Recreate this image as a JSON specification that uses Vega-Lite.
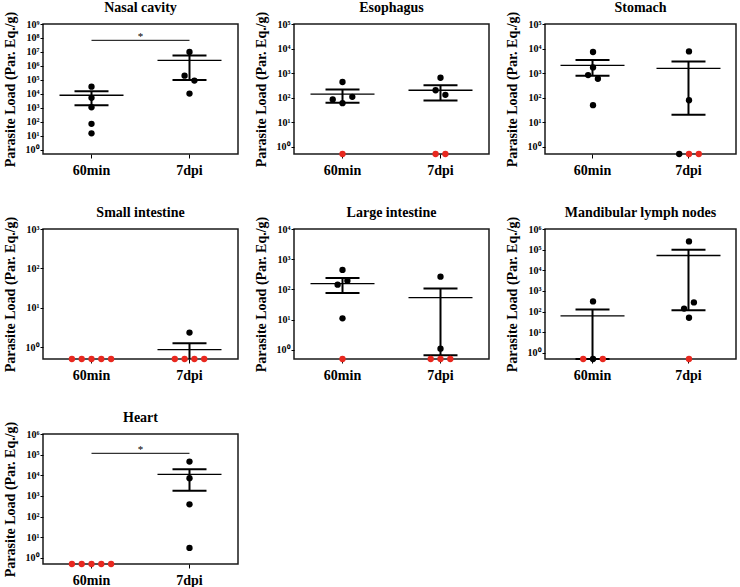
{
"$schema": "https://vega.github.io/schema/vega-lite/v6.json",
"padding": {"left": 2, "top": 0, "right": 2, "bottom": 2},
"columns": 3,
"spacing": {"row": 27, "column": 14},
"datasets": {
"pts": [
{"panel":"Nasal cavity","group":"60min","slot":0,"load":33000,"detected":"yes"},
{"panel":"Nasal cavity","group":"60min","slot":0,"load":5200,"detected":"yes"},
{"panel":"Nasal cavity","group":"60min","slot":0,"load":1100,"detected":"yes"},
{"panel":"Nasal cavity","group":"60min","slot":0,"load":72,"detected":"yes"},
{"panel":"Nasal cavity","group":"60min","slot":0,"load":15,"detected":"yes"},
{"panel":"Nasal cavity","group":"7dpi","slot":0,"load":10000000,"detected":"yes"},
{"panel":"Nasal cavity","group":"7dpi","slot":-0.5,"load":200000,"detected":"yes"},
{"panel":"Nasal cavity","group":"7dpi","slot":0.5,"load":90000,"detected":"yes"},
{"panel":"Nasal cavity","group":"7dpi","slot":0,"load":10500,"detected":"yes"},
{"panel":"Esophagus","group":"60min","slot":0,"load":430,"detected":"yes"},
{"panel":"Esophagus","group":"60min","slot":-1,"load":84,"detected":"yes"},
{"panel":"Esophagus","group":"60min","slot":1,"load":107,"detected":"yes"},
{"panel":"Esophagus","group":"60min","slot":0,"load":59,"detected":"yes"},
{"panel":"Esophagus","group":"60min","slot":0,"load":0.5,"detected":"no"},
{"panel":"Esophagus","group":"7dpi","slot":0,"load":645,"detected":"yes"},
{"panel":"Esophagus","group":"7dpi","slot":-0.5,"load":199,"detected":"yes"},
{"panel":"Esophagus","group":"7dpi","slot":0.5,"load":129,"detected":"yes"},
{"panel":"Esophagus","group":"7dpi","slot":-0.5,"load":0.5,"detected":"no"},
{"panel":"Esophagus","group":"7dpi","slot":0.5,"load":0.5,"detected":"no"},
{"panel":"Stomach","group":"60min","slot":0,"load":7200,"detected":"yes"},
{"panel":"Stomach","group":"60min","slot":0,"load":1700,"detected":"yes"},
{"panel":"Stomach","group":"60min","slot":-0.5,"load":826,"detected":"yes"},
{"panel":"Stomach","group":"60min","slot":0.5,"load":585,"detected":"yes"},
{"panel":"Stomach","group":"60min","slot":0,"load":49,"detected":"yes"},
{"panel":"Stomach","group":"7dpi","slot":0,"load":7600,"detected":"yes"},
{"panel":"Stomach","group":"7dpi","slot":0,"load":78,"detected":"yes"},
{"panel":"Stomach","group":"7dpi","slot":-1,"load":0.5,"detected":"yes"},
{"panel":"Stomach","group":"7dpi","slot":0,"load":0.5,"detected":"no"},
{"panel":"Stomach","group":"7dpi","slot":1,"load":0.5,"detected":"no"},
{"panel":"Small intestine","group":"60min","slot":-2,"load":0.5,"detected":"no"},
{"panel":"Small intestine","group":"60min","slot":-1,"load":0.5,"detected":"no"},
{"panel":"Small intestine","group":"60min","slot":0,"load":0.5,"detected":"no"},
{"panel":"Small intestine","group":"60min","slot":1,"load":0.5,"detected":"no"},
{"panel":"Small intestine","group":"60min","slot":2,"load":0.5,"detected":"no"},
{"panel":"Small intestine","group":"7dpi","slot":0,"load":2.34,"detected":"yes"},
{"panel":"Small intestine","group":"7dpi","slot":-1.5,"load":0.5,"detected":"no"},
{"panel":"Small intestine","group":"7dpi","slot":-0.5,"load":0.5,"detected":"no"},
{"panel":"Small intestine","group":"7dpi","slot":0.5,"load":0.5,"detected":"no"},
{"panel":"Small intestine","group":"7dpi","slot":1.5,"load":0.5,"detected":"no"},
{"panel":"Large intestine","group":"60min","slot":0,"load":442,"detected":"yes"},
{"panel":"Large intestine","group":"60min","slot":-0.5,"load":144,"detected":"yes"},
{"panel":"Large intestine","group":"60min","slot":0.5,"load":195,"detected":"yes"},
{"panel":"Large intestine","group":"60min","slot":0,"load":11.1,"detected":"yes"},
{"panel":"Large intestine","group":"60min","slot":0,"load":0.5,"detected":"no"},
{"panel":"Large intestine","group":"7dpi","slot":0,"load":265,"detected":"yes"},
{"panel":"Large intestine","group":"7dpi","slot":0,"load":1.1,"detected":"yes"},
{"panel":"Large intestine","group":"7dpi","slot":-1,"load":0.5,"detected":"no"},
{"panel":"Large intestine","group":"7dpi","slot":0,"load":0.5,"detected":"no"},
{"panel":"Large intestine","group":"7dpi","slot":1,"load":0.5,"detected":"no"},
{"panel":"Mandibular lymph nodes","group":"60min","slot":0,"load":310,"detected":"yes"},
{"panel":"Mandibular lymph nodes","group":"60min","slot":-1,"load":0.5,"detected":"no"},
{"panel":"Mandibular lymph nodes","group":"60min","slot":1,"load":0.5,"detected":"no"},
{"panel":"Mandibular lymph nodes","group":"60min","slot":0,"load":0.5,"detected":"yes"},
{"panel":"Mandibular lymph nodes","group":"7dpi","slot":0,"load":250000,"detected":"yes"},
{"panel":"Mandibular lymph nodes","group":"7dpi","slot":0.5,"load":277,"detected":"yes"},
{"panel":"Mandibular lymph nodes","group":"7dpi","slot":-0.5,"load":139,"detected":"yes"},
{"panel":"Mandibular lymph nodes","group":"7dpi","slot":0,"load":50,"detected":"yes"},
{"panel":"Mandibular lymph nodes","group":"7dpi","slot":0,"load":0.5,"detected":"no"},
{"panel":"Heart","group":"60min","slot":-2,"load":0.5,"detected":"no"},
{"panel":"Heart","group":"60min","slot":-1,"load":0.5,"detected":"no"},
{"panel":"Heart","group":"60min","slot":0,"load":0.5,"detected":"no"},
{"panel":"Heart","group":"60min","slot":1,"load":0.5,"detected":"no"},
{"panel":"Heart","group":"60min","slot":2,"load":0.5,"detected":"no"},
{"panel":"Heart","group":"7dpi","slot":0,"load":46000,"detected":"yes"},
{"panel":"Heart","group":"7dpi","slot":0,"load":7200,"detected":"yes"},
{"panel":"Heart","group":"7dpi","slot":0,"load":390,"detected":"yes"},
{"panel":"Heart","group":"7dpi","slot":0,"load":3.0,"detected":"yes"}
],
"summary": [
{"panel":"Nasal cavity","group":"60min","load":8000,"lower":1550,"upper":15500},
{"panel":"Nasal cavity","group":"7dpi","load":2500000,"lower":100000,"upper":5500000},
{"panel":"Esophagus","group":"60min","load":138,"lower":61,"upper":212},
{"panel":"Esophagus","group":"7dpi","load":199,"lower":76,"upper":316},
{"panel":"Stomach","group":"60min","load":2040,"lower":775,"upper":3380},
{"panel":"Stomach","group":"7dpi","load":1550,"lower":20,"upper":2970},
{"panel":"Small intestine","group":"7dpi","load":0.87,"lower":0.5,"upper":1.26},
{"panel":"Large intestine","group":"60min","load":156,"lower":76,"upper":240},
{"panel":"Large intestine","group":"7dpi","load":54,"lower":0.67,"upper":107},
{"panel":"Mandibular lymph nodes","group":"60min","load":62,"lower":0.5,"upper":125},
{"panel":"Mandibular lymph nodes","group":"7dpi","load":52000,"lower":116,"upper":100000},
{"panel":"Heart","group":"7dpi","load":11000,"lower":1780,"upper":19500}
],
"sig": [
{"panel":"Nasal cavity","group":"60min","load":68000000},
{"panel":"Nasal cavity","group":"7dpi","load":68000000},
{"panel":"Heart","group":"60min","load":116000},
{"panel":"Heart","group":"7dpi","load":116000}
],
"star": [
{"panel":"Nasal cavity","group":" ","load":68000000,"label":"*"},
{"panel":"Heart","group":" ","load":116000,"label":"*"}
]
},
"concat": [
{
"title": "Nasal cavity", "width": 195, "height": 130,
"encoding": {
"x": {"field":"group","type":"nominal","title":null,"scale":{"domain":["60min"," ","7dpi"],"paddingInner":0,"paddingOuter":0.49},"axis":{"values":["60min","7dpi"],"labelAngle":0}},
"y": {"field":"load","type":"quantitative","title":"Parasite Load (Par. Eq./g)","scale":{"type":"log","domain":[0.5,1000000000],"nice":false},"axis":{"values":[1,10,100,1000,10000,100000,1000000,10000000,100000000,1000000000],"labelExpr":"'10' + substring('⁰¹²³⁴⁵⁶⁷⁸⁹', round(log(datum.value)/LN10), round(log(datum.value)/LN10)+1)"}}
},
"layer": [
{"data":{"name":"summary"},"transform":[{"filter":"datum.panel === 'Nasal cavity'"}],"mark":{"type":"rule","color":"black","strokeWidth":2},"encoding":{"y":{"field":"lower","type":"quantitative","title":"Parasite Load (Par. Eq./g)","scale":{"type":"log"}},"y2":{"field":"upper"}}},
{"data":{"name":"summary"},"transform":[{"filter":"datum.panel === 'Nasal cavity'"}],"mark":{"type":"tick","color":"black","size":34,"thickness":2,"opacity":1},"encoding":{"y":{"field":"lower","type":"quantitative","title":"Parasite Load (Par. Eq./g)","scale":{"type":"log"}}}},
{"data":{"name":"summary"},"transform":[{"filter":"datum.panel === 'Nasal cavity'"}],"mark":{"type":"tick","color":"black","size":34,"thickness":2,"opacity":1},"encoding":{"y":{"field":"upper","type":"quantitative","title":"Parasite Load (Par. Eq./g)","scale":{"type":"log"}}}},
{"data":{"name":"summary"},"transform":[{"filter":"datum.panel === 'Nasal cavity'"}],"mark":{"type":"tick","color":"black","size":64,"thickness":1.3,"opacity":1}},
{"data":{"name":"sig"},"transform":[{"filter":"datum.panel === 'Nasal cavity'"}],"mark":{"type":"line","color":"black","strokeWidth":1}},
{"data":{"name":"star"},"transform":[{"filter":"datum.panel === 'Nasal cavity'"}],"mark":{"type":"text","fontSize":11,"baseline":"alphabetic","color":"black"},"encoding":{"text":{"field":"label"}}},
{"data":{"name":"pts"},"transform":[{"filter":"datum.panel === 'Nasal cavity'"}],"mark":{"type":"point","filled":true,"size":40,"opacity":1},"encoding":{"xOffset":{"field":"slot","type":"ordinal","scale":{"domain":[-2,-1.5,-1,-0.5,0,0.5,1,1.5,2],"paddingInner":0,"paddingOuter":1.6}},"color":{"field":"detected","type":"nominal","scale":{"domain":["yes","no"],"range":["#000000","#e8281f"]},"legend":null}}}
]
},
{
"title": "Esophagus", "width": 195, "height": 130,
"encoding": {
"x": {"field":"group","type":"nominal","title":null,"scale":{"domain":["60min"," ","7dpi"],"paddingInner":0,"paddingOuter":0.49},"axis":{"values":["60min","7dpi"],"labelAngle":0}},
"y": {"field":"load","type":"quantitative","title":"Parasite Load (Par. Eq./g)","scale":{"type":"log","domain":[0.5,100000],"nice":false},"axis":{"values":[1,10,100,1000,10000,100000],"labelExpr":"'10' + substring('⁰¹²³⁴⁵⁶⁷⁸⁹', round(log(datum.value)/LN10), round(log(datum.value)/LN10)+1)"}}
},
"layer": [
{"data":{"name":"summary"},"transform":[{"filter":"datum.panel === 'Esophagus'"}],"mark":{"type":"rule","color":"black","strokeWidth":2},"encoding":{"y":{"field":"lower","type":"quantitative","title":"Parasite Load (Par. Eq./g)","scale":{"type":"log"}},"y2":{"field":"upper"}}},
{"data":{"name":"summary"},"transform":[{"filter":"datum.panel === 'Esophagus'"}],"mark":{"type":"tick","color":"black","size":34,"thickness":2,"opacity":1},"encoding":{"y":{"field":"lower","type":"quantitative","title":"Parasite Load (Par. Eq./g)","scale":{"type":"log"}}}},
{"data":{"name":"summary"},"transform":[{"filter":"datum.panel === 'Esophagus'"}],"mark":{"type":"tick","color":"black","size":34,"thickness":2,"opacity":1},"encoding":{"y":{"field":"upper","type":"quantitative","title":"Parasite Load (Par. Eq./g)","scale":{"type":"log"}}}},
{"data":{"name":"summary"},"transform":[{"filter":"datum.panel === 'Esophagus'"}],"mark":{"type":"tick","color":"black","size":64,"thickness":1.3,"opacity":1}},
{"data":{"name":"pts"},"transform":[{"filter":"datum.panel === 'Esophagus'"}],"mark":{"type":"point","filled":true,"size":40,"opacity":1},"encoding":{"xOffset":{"field":"slot","type":"ordinal","scale":{"domain":[-2,-1.5,-1,-0.5,0,0.5,1,1.5,2],"paddingInner":0,"paddingOuter":1.6}},"color":{"field":"detected","type":"nominal","scale":{"domain":["yes","no"],"range":["#000000","#e8281f"]},"legend":null}}}
]
},
{
"title": "Stomach", "width": 191, "height": 130,
"encoding": {
"x": {"field":"group","type":"nominal","title":null,"scale":{"domain":["60min"," ","7dpi"],"paddingInner":0,"paddingOuter":0.49},"axis":{"values":["60min","7dpi"],"labelAngle":0}},
"y": {"field":"load","type":"quantitative","title":"Parasite Load (Par. Eq./g)","scale":{"type":"log","domain":[0.5,100000],"nice":false},"axis":{"values":[1,10,100,1000,10000,100000],"labelExpr":"'10' + substring('⁰¹²³⁴⁵⁶⁷⁸⁹', round(log(datum.value)/LN10), round(log(datum.value)/LN10)+1)"}}
},
"layer": [
{"data":{"name":"summary"},"transform":[{"filter":"datum.panel === 'Stomach'"}],"mark":{"type":"rule","color":"black","strokeWidth":2},"encoding":{"y":{"field":"lower","type":"quantitative","title":"Parasite Load (Par. Eq./g)","scale":{"type":"log"}},"y2":{"field":"upper"}}},
{"data":{"name":"summary"},"transform":[{"filter":"datum.panel === 'Stomach'"}],"mark":{"type":"tick","color":"black","size":34,"thickness":2,"opacity":1},"encoding":{"y":{"field":"lower","type":"quantitative","title":"Parasite Load (Par. Eq./g)","scale":{"type":"log"}}}},
{"data":{"name":"summary"},"transform":[{"filter":"datum.panel === 'Stomach'"}],"mark":{"type":"tick","color":"black","size":34,"thickness":2,"opacity":1},"encoding":{"y":{"field":"upper","type":"quantitative","title":"Parasite Load (Par. Eq./g)","scale":{"type":"log"}}}},
{"data":{"name":"summary"},"transform":[{"filter":"datum.panel === 'Stomach'"}],"mark":{"type":"tick","color":"black","size":64,"thickness":1.3,"opacity":1}},
{"data":{"name":"pts"},"transform":[{"filter":"datum.panel === 'Stomach'"}],"mark":{"type":"point","filled":true,"size":40,"opacity":1},"encoding":{"xOffset":{"field":"slot","type":"ordinal","scale":{"domain":[-2,-1.5,-1,-0.5,0,0.5,1,1.5,2],"paddingInner":0,"paddingOuter":1.6}},"color":{"field":"detected","type":"nominal","scale":{"domain":["yes","no"],"range":["#000000","#e8281f"]},"legend":null}}}
]
},
{
"title": "Small intestine", "width": 195, "height": 130,
"encoding": {
"x": {"field":"group","type":"nominal","title":null,"scale":{"domain":["60min"," ","7dpi"],"paddingInner":0,"paddingOuter":0.49},"axis":{"values":["60min","7dpi"],"labelAngle":0}},
"y": {"field":"load","type":"quantitative","title":"Parasite Load (Par. Eq./g)","scale":{"type":"log","domain":[0.5,1000],"nice":false},"axis":{"values":[1,10,100,1000],"labelExpr":"'10' + substring('⁰¹²³⁴⁵⁶⁷⁸⁹', round(log(datum.value)/LN10), round(log(datum.value)/LN10)+1)"}}
},
"layer": [
{"data":{"name":"summary"},"transform":[{"filter":"datum.panel === 'Small intestine'"}],"mark":{"type":"rule","color":"black","strokeWidth":2},"encoding":{"y":{"field":"lower","type":"quantitative","title":"Parasite Load (Par. Eq./g)","scale":{"type":"log"}},"y2":{"field":"upper"}}},
{"data":{"name":"summary"},"transform":[{"filter":"datum.panel === 'Small intestine'"}],"mark":{"type":"tick","color":"black","size":34,"thickness":2,"opacity":1},"encoding":{"y":{"field":"upper","type":"quantitative","title":"Parasite Load (Par. Eq./g)","scale":{"type":"log"}}}},
{"data":{"name":"summary"},"transform":[{"filter":"datum.panel === 'Small intestine'"}],"mark":{"type":"tick","color":"black","size":64,"thickness":1.3,"opacity":1}},
{"data":{"name":"pts"},"transform":[{"filter":"datum.panel === 'Small intestine'"}],"mark":{"type":"point","filled":true,"size":40,"opacity":1},"encoding":{"xOffset":{"field":"slot","type":"ordinal","scale":{"domain":[-2,-1.5,-1,-0.5,0,0.5,1,1.5,2],"paddingInner":0,"paddingOuter":1.6}},"color":{"field":"detected","type":"nominal","scale":{"domain":["yes","no"],"range":["#000000","#e8281f"]},"legend":null}}}
]
},
{
"title": "Large intestine", "width": 195, "height": 130,
"encoding": {
"x": {"field":"group","type":"nominal","title":null,"scale":{"domain":["60min"," ","7dpi"],"paddingInner":0,"paddingOuter":0.49},"axis":{"values":["60min","7dpi"],"labelAngle":0}},
"y": {"field":"load","type":"quantitative","title":"Parasite Load (Par. Eq./g)","scale":{"type":"log","domain":[0.5,10000],"nice":false},"axis":{"values":[1,10,100,1000,10000],"labelExpr":"'10' + substring('⁰¹²³⁴⁵⁶⁷⁸⁹', round(log(datum.value)/LN10), round(log(datum.value)/LN10)+1)"}}
},
"layer": [
{"data":{"name":"summary"},"transform":[{"filter":"datum.panel === 'Large intestine'"}],"mark":{"type":"rule","color":"black","strokeWidth":2},"encoding":{"y":{"field":"lower","type":"quantitative","title":"Parasite Load (Par. Eq./g)","scale":{"type":"log"}},"y2":{"field":"upper"}}},
{"data":{"name":"summary"},"transform":[{"filter":"datum.panel === 'Large intestine'"}],"mark":{"type":"tick","color":"black","size":34,"thickness":2,"opacity":1},"encoding":{"y":{"field":"lower","type":"quantitative","title":"Parasite Load (Par. Eq./g)","scale":{"type":"log"}}}},
{"data":{"name":"summary"},"transform":[{"filter":"datum.panel === 'Large intestine'"}],"mark":{"type":"tick","color":"black","size":34,"thickness":2,"opacity":1},"encoding":{"y":{"field":"upper","type":"quantitative","title":"Parasite Load (Par. Eq./g)","scale":{"type":"log"}}}},
{"data":{"name":"summary"},"transform":[{"filter":"datum.panel === 'Large intestine'"}],"mark":{"type":"tick","color":"black","size":64,"thickness":1.3,"opacity":1}},
{"data":{"name":"pts"},"transform":[{"filter":"datum.panel === 'Large intestine'"}],"mark":{"type":"point","filled":true,"size":40,"opacity":1},"encoding":{"xOffset":{"field":"slot","type":"ordinal","scale":{"domain":[-2,-1.5,-1,-0.5,0,0.5,1,1.5,2],"paddingInner":0,"paddingOuter":1.6}},"color":{"field":"detected","type":"nominal","scale":{"domain":["yes","no"],"range":["#000000","#e8281f"]},"legend":null}}}
]
},
{
"title": "Mandibular lymph nodes", "width": 191, "height": 130,
"encoding": {
"x": {"field":"group","type":"nominal","title":null,"scale":{"domain":["60min"," ","7dpi"],"paddingInner":0,"paddingOuter":0.49},"axis":{"values":["60min","7dpi"],"labelAngle":0}},
"y": {"field":"load","type":"quantitative","title":"Parasite Load (Par. Eq./g)","scale":{"type":"log","domain":[0.5,1000000],"nice":false},"axis":{"values":[1,10,100,1000,10000,100000,1000000],"labelExpr":"'10' + substring('⁰¹²³⁴⁵⁶⁷⁸⁹', round(log(datum.value)/LN10), round(log(datum.value)/LN10)+1)"}}
},
"layer": [
{"data":{"name":"summary"},"transform":[{"filter":"datum.panel === 'Mandibular lymph nodes'"}],"mark":{"type":"rule","color":"black","strokeWidth":2},"encoding":{"y":{"field":"lower","type":"quantitative","title":"Parasite Load (Par. Eq./g)","scale":{"type":"log"}},"y2":{"field":"upper"}}},
{"data":{"name":"summary"},"transform":[{"filter":"datum.panel === 'Mandibular lymph nodes'"}],"mark":{"type":"tick","color":"black","size":34,"thickness":2,"opacity":1},"encoding":{"y":{"field":"lower","type":"quantitative","title":"Parasite Load (Par. Eq./g)","scale":{"type":"log"}}}},
{"data":{"name":"summary"},"transform":[{"filter":"datum.panel === 'Mandibular lymph nodes'"}],"mark":{"type":"tick","color":"black","size":34,"thickness":2,"opacity":1},"encoding":{"y":{"field":"upper","type":"quantitative","title":"Parasite Load (Par. Eq./g)","scale":{"type":"log"}}}},
{"data":{"name":"summary"},"transform":[{"filter":"datum.panel === 'Mandibular lymph nodes'"}],"mark":{"type":"tick","color":"black","size":64,"thickness":1.3,"opacity":1}},
{"data":{"name":"pts"},"transform":[{"filter":"datum.panel === 'Mandibular lymph nodes'"}],"mark":{"type":"point","filled":true,"size":40,"opacity":1},"encoding":{"xOffset":{"field":"slot","type":"ordinal","scale":{"domain":[-2,-1.5,-1,-0.5,0,0.5,1,1.5,2],"paddingInner":0,"paddingOuter":1.6}},"color":{"field":"detected","type":"nominal","scale":{"domain":["yes","no"],"range":["#000000","#e8281f"]},"legend":null}}}
]
},
{
"title": "Heart", "width": 195, "height": 130,
"encoding": {
"x": {"field":"group","type":"nominal","title":null,"scale":{"domain":["60min"," ","7dpi"],"paddingInner":0,"paddingOuter":0.49},"axis":{"values":["60min","7dpi"],"labelAngle":0}},
"y": {"field":"load","type":"quantitative","title":"Parasite Load (Par. Eq./g)","scale":{"type":"log","domain":[0.5,1000000],"nice":false},"axis":{"values":[1,10,100,1000,10000,100000,1000000],"labelExpr":"'10' + substring('⁰¹²³⁴⁵⁶⁷⁸⁹', round(log(datum.value)/LN10), round(log(datum.value)/LN10)+1)"}}
},
"layer": [
{"data":{"name":"summary"},"transform":[{"filter":"datum.panel === 'Heart'"}],"mark":{"type":"rule","color":"black","strokeWidth":2},"encoding":{"y":{"field":"lower","type":"quantitative","title":"Parasite Load (Par. Eq./g)","scale":{"type":"log"}},"y2":{"field":"upper"}}},
{"data":{"name":"summary"},"transform":[{"filter":"datum.panel === 'Heart'"}],"mark":{"type":"tick","color":"black","size":34,"thickness":2,"opacity":1},"encoding":{"y":{"field":"lower","type":"quantitative","title":"Parasite Load (Par. Eq./g)","scale":{"type":"log"}}}},
{"data":{"name":"summary"},"transform":[{"filter":"datum.panel === 'Heart'"}],"mark":{"type":"tick","color":"black","size":34,"thickness":2,"opacity":1},"encoding":{"y":{"field":"upper","type":"quantitative","title":"Parasite Load (Par. Eq./g)","scale":{"type":"log"}}}},
{"data":{"name":"summary"},"transform":[{"filter":"datum.panel === 'Heart'"}],"mark":{"type":"tick","color":"black","size":64,"thickness":1.3,"opacity":1}},
{"data":{"name":"sig"},"transform":[{"filter":"datum.panel === 'Heart'"}],"mark":{"type":"line","color":"black","strokeWidth":1}},
{"data":{"name":"star"},"transform":[{"filter":"datum.panel === 'Heart'"}],"mark":{"type":"text","fontSize":11,"baseline":"alphabetic","color":"black"},"encoding":{"text":{"field":"label"}}},
{"data":{"name":"pts"},"transform":[{"filter":"datum.panel === 'Heart'"}],"mark":{"type":"point","filled":true,"size":40,"opacity":1},"encoding":{"xOffset":{"field":"slot","type":"ordinal","scale":{"domain":[-2,-1.5,-1,-0.5,0,0.5,1,1.5,2],"paddingInner":0,"paddingOuter":1.6}},"color":{"field":"detected","type":"nominal","scale":{"domain":["yes","no"],"range":["#000000","#e8281f"]},"legend":null}}}
]
}
],
"config": {
"font": "Liberation Serif",
"view": {"stroke": "#1a1a1a", "strokeWidth": 1.5},
"title": {"font": "Liberation Serif", "fontSize": 14, "fontWeight": "bold", "color": "black", "frame": "group", "offset": -4},
"axis": {"grid": false, "domain": false, "tickColor": "black", "tickSize": 3, "labelFont": "Liberation Serif", "labelFontWeight": "bold", "labelColor": "black", "titleFont": "Liberation Serif", "titleFontWeight": "bold", "titleColor": "black"},
"axisX": {"labelFontSize": 14, "tickSize": 4, "labelPadding": 5},
"axisY": {"labelFontSize": 10, "titleFontSize": 14, "titlePadding": 8, "labelPadding": 1}
}
}
